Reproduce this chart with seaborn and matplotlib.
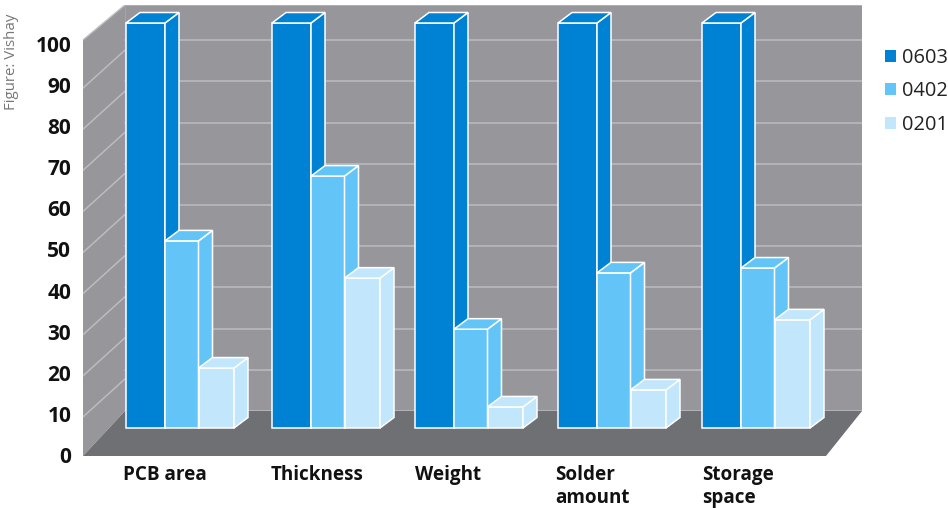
import matplotlib
matplotlib.use("Agg")
import matplotlib.pyplot as plt
from matplotlib.patches import Patch, Polygon
import pandas as pd
import seaborn as sns

categories = ["PCB area", "Thickness", "Weight", "Solder\namount", "Storage\nspace"]
packages = ["0603", "0402", "0201"]
size_0603 = [100, 100, 100, 100, 100]
size_0402 = [46.2, 62.2, 24.4, 38.3, 39.5]
size_0201 = [14.8, 37.0, 5.2, 9.4, 26.7]
axis_ticks = [0, 10, 20, 30, 40, 50, 60, 70, 80, 90, 100]

colors = ["#0082d4", "#63c5f7", "#c2e6fb"]
WALL = "#97979b"
FLOOR = "#6f7073"
GRID = "#bcbcc0"
FONT = "Open Sans"

W, H = 948, 508
# plot box in figure pixels
L, R, T, B = 83, 862, 5, 456
# bar plane: baseline row and pixels per unit
BASE_ROW, BAR_SCALE = 428, 4.05
# wall scale: zero row and pixels per unit
ZERO_ROW, WALL_SCALE = 455, 4.11
# extrusion of each bar
DX, DY = 14, 10.5
GROUP_LEFT = [126, 272, 415, 558, 702]
LABEL_LEFT = [123, 271, 415, 555, 702]
BAR_PX = [39, 33.5, 35.5]
CENTER0, SPACING = 179.5, 144.1

frame = pd.DataFrame({
    "category": categories * 3,
    "package": [p for p in packages for _ in categories],
    "value": size_0603 + size_0402 + size_0201,
})

sns.set_theme(style="white")
fig = plt.figure(figsize=(W / 100, H / 100), dpi=100)
rect = [L / W, 1 - B / H, (R - L) / W, (B - T) / H]


def wall_y(row):
    return (ZERO_ROW - row) / WALL_SCALE


# Room behind the bars: back wall, side wall, floor and their grid lines
room = fig.add_axes(rect)
room.set_xlim(L, R)
room.set_ylim(wall_y(B), wall_y(T))
room.add_patch(Polygon([(L, wall_y(456)), (125, wall_y(411)), (125, wall_y(5)), (L, wall_y(40))],
                       facecolor=WALL, edgecolor="none"))
room.add_patch(Polygon([(125, wall_y(411)), (R, wall_y(411)), (R, wall_y(5)), (125, wall_y(5))],
                       facecolor=WALL, edgecolor="none"))
room.plot([L, 125, R], [wall_y(40), wall_y(5), wall_y(5)], color=GRID, lw=1.0)
room.plot([125, 125], [wall_y(411), wall_y(5)], color="#a6a6aa", lw=0.7)
for k in range(1, 10):
    room.plot([125, R], [wall_y(411 - 41.2 * k)] * 2, color=GRID, lw=1.1)
    front = 458 - 41.1 * k
    room.plot([L, 125], [wall_y(front), wall_y(front - 38)], color=GRID, lw=1.1)
room.plot([125, R], [wall_y(411)] * 2, color=GRID, lw=1.1)
room.add_patch(Polygon([(L, wall_y(456)), (125, wall_y(411)), (R, wall_y(411)), (826, wall_y(456))],
                       facecolor=FLOOR, edgecolor="none", zorder=3))
room.set_xticks([])
room.set_yticks(axis_ticks)
room.set_yticklabels([str(t) for t in axis_ticks], fontfamily=FONT, fontweight="bold",
                     fontsize=15, color="#111111")
room.tick_params(axis="y", length=0, pad=8.5)
sns.despine(ax=room, left=True, bottom=True)

# Bars on their own transparent axes so they follow the bar-plane scale
ax = fig.add_axes(rect)
ax.patch.set_alpha(0)
sns.barplot(data=frame, x="category", y="value", hue="package", hue_order=packages,
            order=categories, palette=colors, saturation=1, width=0.74, gap=0, dodge=True,
            edgecolor="white", linewidth=1.1, legend=False, ax=ax)
ax.set_xlim((L - CENTER0) / SPACING, (R - CENTER0) / SPACING)
ax.set_ylim((BASE_ROW - B) / BAR_SCALE, (BASE_ROW - T) / BAR_SCALE)


def to_x(px):
    return (px - CENTER0) / SPACING


dx = DX / SPACING
dy = DY / BAR_SCALE
for h, container in enumerate(ax.containers):
    z = 4 + h
    for g, bar in enumerate(container):
        left_px = GROUP_LEFT[g] + sum(BAR_PX[:h])
        bar.set_x(to_x(left_px))
        bar.set_width(BAR_PX[h] / SPACING)
        bar.set_zorder(z)
        x0, x1 = bar.get_x(), bar.get_x() + bar.get_width()
        y1 = bar.get_height()
        common = dict(facecolor=colors[h], edgecolor="white", linewidth=1.1,
                      joinstyle="miter", zorder=z)
        ax.add_patch(Polygon([(x1, 0), (x1 + dx, dy), (x1 + dx, y1 + dy), (x1, y1)], **common))
        ax.add_patch(Polygon([(x0, y1), (x0 + dx, y1 + dy), (x1 + dx, y1 + dy), (x1, y1)], **common))

ax.set_xticks([to_x(p) for p in LABEL_LEFT])
ax.set_xticklabels(categories, ha="left", fontfamily=FONT, fontweight="bold", fontsize=13.6,
                   color="#111111", linespacing=1.2)
ax.set_yticks([])
ax.set_xlabel("")
ax.set_ylabel("")
ax.tick_params(axis="x", length=0, pad=6.5)
sns.despine(ax=ax, left=True, bottom=True)

handles = [Patch(facecolor=c, edgecolor="none") for c in colors]
fig.legend(handles, packages, loc="upper left", bbox_to_anchor=(881 / W, 1 - 44 / H),
           frameon=False, prop={"family": FONT, "size": 14.4}, labelcolor="#222222",
           handlelength=0.55, handleheight=0.55, handletextpad=0.3, labelspacing=0.67,
           borderpad=0.2, borderaxespad=0)

fig.text(12 / W, 1 - 62 / H, "Figure: Vishay", rotation=90, ha="center", va="center",
         fontfamily=FONT, fontsize=10.8, color="#777777")

fig.savefig("out.png", dpi=100)
